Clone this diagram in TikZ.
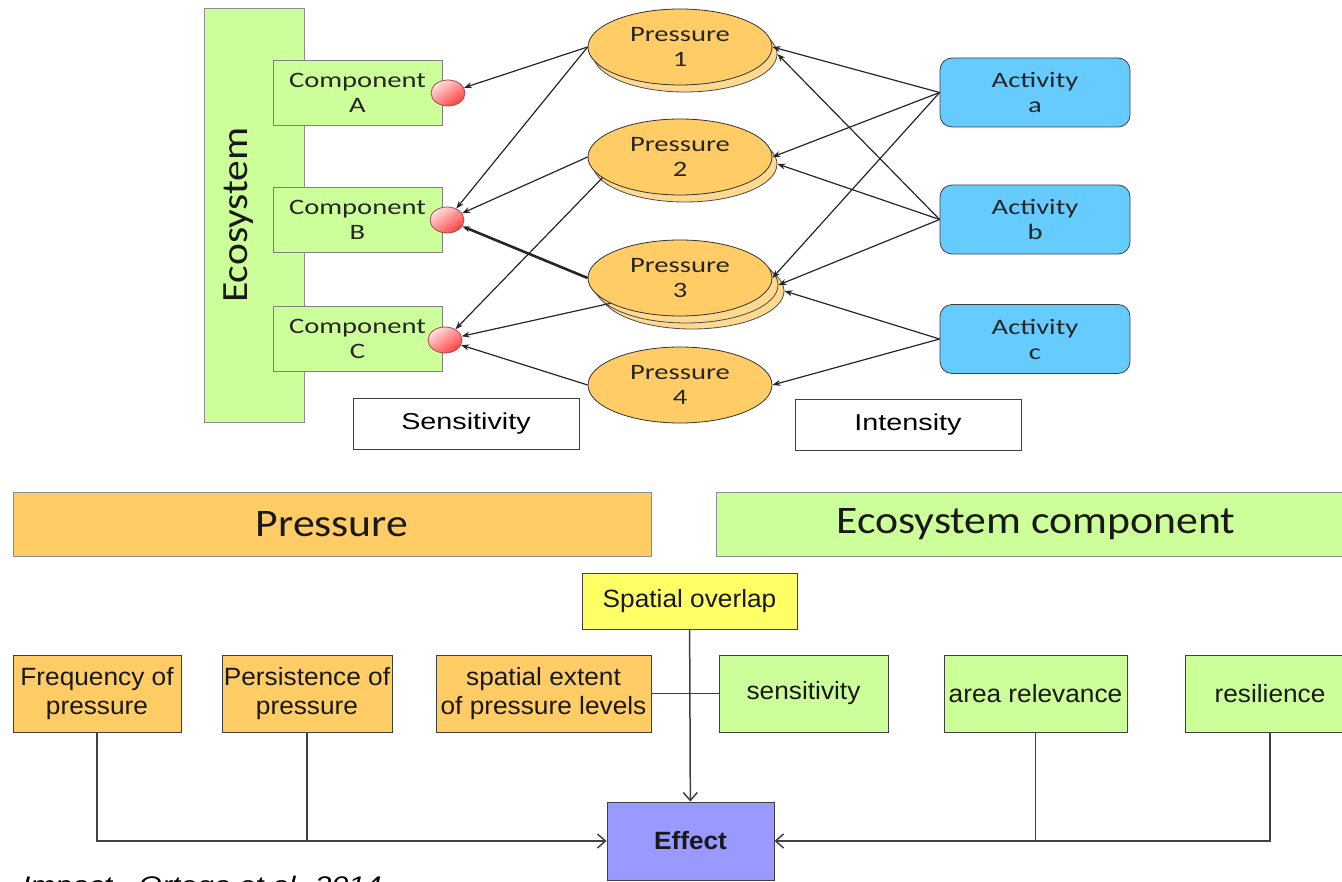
\documentclass[tikz,border=0pt]{standalone}
\usepackage{fontspec}
\usepackage{xcolor}
\usepackage{tikz}
\usetikzlibrary{arrows.meta,shapes.geometric}
\newfontfamily\topfont[FakeStretch=1.3]{Carlito}
\newfontfamily\headfont[FakeStretch=1.12]{Carlito}
\newfontfamily\boxfont[FakeStretch=1.25]{Liberation Sans}
\newfontfamily\lowfont[FakeStretch=1.05]{Liberation Sans}
\definecolor{ecogreen}{HTML}{CCFF99}
\definecolor{presorange}{HTML}{FFCC66}
\definecolor{shadeorange}{HTML}{FFD98F}
\definecolor{actblue}{HTML}{66CCFF}
\definecolor{effviolet}{HTML}{9999FF}
\definecolor{ovyellow}{HTML}{FFFF66}
\tikzset{
  topfnt/.style={font={\topfont\fontsize{11}{12.5}\selectfont},text=black!85},
  lowfnt/.style={font={\lowfont\fontsize{12.5}{14.5}\selectfont},text=black!90},
  ecobar/.style={draw=black!45,fill=ecogreen,minimum width=50pt,minimum height=207pt,inner sep=0pt},
  compbox/.style={topfnt,draw=black!50,fill=ecogreen,minimum width=84.5pt,minimum height=32.5pt,inner sep=0pt,align=center},
  sensdot/.style={ellipse,draw=red!45!black!70,minimum width=17pt,minimum height=13pt,inner sep=0pt,
    top color=red!12,bottom color=red!75!white,shading angle=35},
  presnode/.style={topfnt,ellipse,draw=black!80,fill=presorange,minimum width=92pt,minimum height=38pt,inner sep=0pt,align=center},
  presshade/.style={ellipse,draw=black!70,fill=shadeorange,minimum width=92pt,minimum height=38pt,inner sep=0pt},
  actnode/.style={topfnt,draw=black!75,fill=actblue,rounded corners=6pt,minimum width=95pt,minimum height=34.5pt,inner sep=0pt,align=center},
  legbox/.style={draw=black!75,fill=white,minimum width=113pt,minimum height=25.5pt,inner sep=0pt,font={\boxfont\fontsize{11.5}{13}\selectfont}},
  headbox/.style={draw=black!45,minimum width=319pt,minimum height=32pt,inner sep=0pt,font={\headfont\fontsize{19.5}{22}\selectfont},text=black!90},
  factbox/.style={lowfnt,draw=black!75,minimum height=38.5pt,inner sep=0pt,align=center},
  tiparrow/.style={->,>={Stealth[length=4pt,width=3pt]},line width=0.6pt,black!85},
  flowline/.style={line width=0.75pt,black!75},
  flowarrow/.style={flowline,->,>={Straight Barb[length=4pt,width=7pt]}},
}
\begin{document}
\begin{tikzpicture}[x=0.5pt,y=-0.5pt]
  \useasboundingbox (0,0) rectangle (1342,882);
  % ecosystem and its components
  \node[ecobar] (eco) at (254,215) {};
  \node[rotate=90,font={\headfont\fontsize{18.5}{20}\selectfont},text=black!90] (ecolbl) at (239,215) {Ecosystem};
  \node[compbox] (compA) at (357.5,92.5) {Component\\A};
  \node[compbox] (compB) at (357.5,219.5) {Component\\B};
  \node[compbox] (compC) at (357.5,339) {Component\\C};
  \node[sensdot] (dotA) at (448,93) {};
  \node[sensdot] (dotB) at (447,220) {};
  \node[sensdot] (dotC) at (445,340) {};
  % pressures
  \node[presshade] (p1s) at (685,54) {};
  \node[presnode] (p1) at (680,47) {Pressure\\1};
  \node[presshade] (p2s) at (685,164) {};
  \node[presnode] (p2) at (680,157) {Pressure\\2};
  \node[presshade] (p3s2) at (692,291) {};
  \node[presshade] (p3s1) at (686,285) {};
  \node[presnode] (p3) at (680,278) {Pressure\\3};
  \node[presnode] (p4) at (680,385) {Pressure\\4};
  % activities
  \node[actnode] (actA) at (1035,92.5) {Activity\\a};
  \node[actnode] (actB) at (1035,219.5) {Activity\\b};
  \node[actnode] (actC) at (1035,339) {Activity\\c};
  \node[legbox] (sens) at (466,424) {Sensitivity};
  \node[legbox] (inten) at (908,425) {Intensity};
  \draw[tiparrow] (p1.west) -- (dotA);
  \draw[tiparrow] (p1.west) -- (dotB);
  \draw[tiparrow] (p2.west) -- (dotB);
  \draw[tiparrow] (p2.195) -- (dotC);
  \draw[tiparrow,line width=1.3pt] (p3.west) -- (dotB);
  \draw[tiparrow] (p3.200) -- (dotC);
  \draw[tiparrow] (p4.west) -- (dotC);
  \draw[tiparrow] (actA.west) -- (p1.east);
  \draw[tiparrow] (actA.west) -- (p2.east);
  \draw[tiparrow] (actA.west) -- (p3.east);
  \draw[tiparrow] (actB.west) -- (p1s.east);
  \draw[tiparrow] (actB.west) -- (p2s.east);
  \draw[tiparrow] (actB.west) -- (p3s1.east);
  \draw[tiparrow] (actC.west) -- (p3s2.east);
  \draw[tiparrow] (actC.west) -- (p4.east);
  % effect scheme
  \node[headbox,fill=presorange] (hpres) at (332,524) {Pressure};
  \node[headbox,fill=ecogreen,minimum width=320pt] (heco) at (1036,524) {Ecosystem component};
  \node[factbox,fill=ovyellow,minimum width=107.5pt,minimum height=28pt] (overlap) at (689.5,601) {Spatial overlap};
  \node[factbox,fill=presorange,minimum width=84pt] (freq) at (97,693.5) {Frequency of\\pressure};
  \node[factbox,fill=presorange,minimum width=85pt] (pers) at (307,693.5) {Persistence of\\pressure};
  \node[factbox,fill=presorange,minimum width=107.5pt] (extent) at (543.5,693.5) {spatial extent\\of pressure levels};
  \node[factbox,fill=ecogreen,minimum width=84.5pt] (sensi) at (803.5,693.5) {sensitivity};
  \node[factbox,fill=ecogreen,minimum width=91.5pt] (area) at (1035.5,693.5) {area relevance};
  \node[factbox,fill=ecogreen,minimum width=85pt] (resil) at (1270,693.5) {resilience};
  \node[factbox,fill=effviolet,minimum width=83.5pt,minimum height=39pt,font={\lowfont\bfseries\fontsize{12.5}{14.5}\selectfont}] (effect) at (690.5,841) {Effect};
  \draw[flowline] (extent.east) -- (sensi.west);
  \draw[flowarrow] (overlap) -- (effect);
  \draw[flowarrow] (freq.south) |- (effect.west);
  \draw[flowline] (pers.south) -- (pers.south |- effect.west);
  \draw[flowarrow] (area.south) |- (effect.east);
  \draw[flowline] (resil.south) |- (area.south |- effect.east);
  \node[anchor=base west,font={\boxfont\itshape\fontsize{12}{14}\selectfont}] (source) at (15,893) {Impact - Ortega et al. 2014};
\end{tikzpicture}
\end{document}
